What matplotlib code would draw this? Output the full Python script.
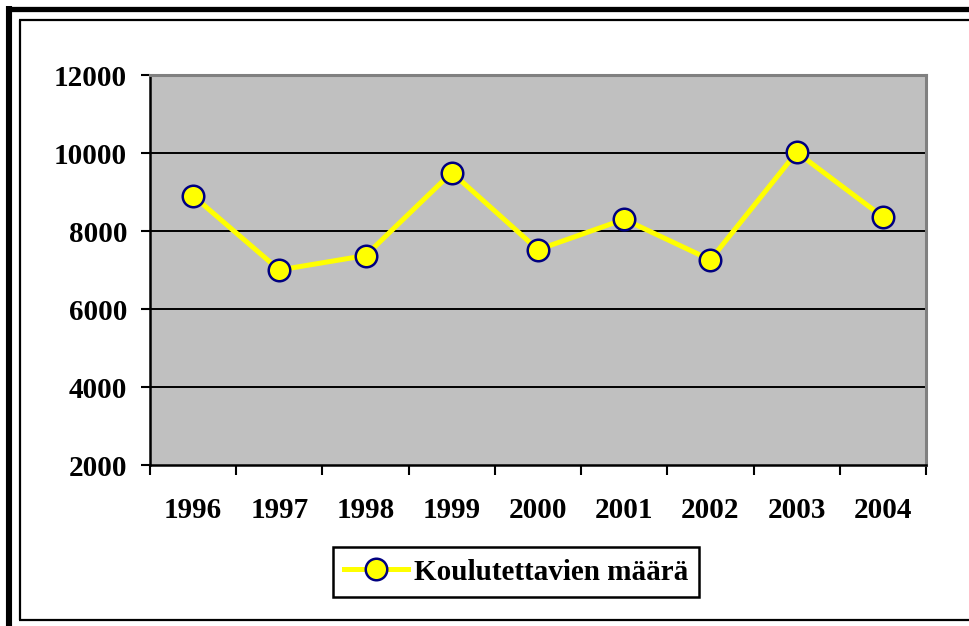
import matplotlib
matplotlib.use("Agg")
import matplotlib.pyplot as plt
from matplotlib.lines import Line2D
from matplotlib.ticker import FixedLocator

years = ["1996", "1997", "1998", "1999", "2000", "2001", "2002", "2003", "2004"]
values = [8900, 7000, 7370, 9500, 7520, 8300, 7260, 10020, 8360]
yticks = [2000, 4000, 6000, 8000, 10000, 12000]
series_name = "Koulutettavien määrä"

plt.rcParams['font.family'] = ['Liberation Serif', 'DejaVu Serif']
plt.rcParams['font.weight'] = 'bold'

W, H = 970, 626
fig = plt.figure(figsize=(W / 100, H / 100), dpi=100)
fig.patch.set_facecolor('white')

ax = fig.add_axes([150 / W, 1 - 465 / H, (926 - 150) / W, (465 - 75) / H])
ax.set_facecolor('#C0C0C0')

x = list(range(len(years)))
ax.plot(x, values, color='#FFFF00', lw=3.6, marker='o', markersize=15.5,
        markerfacecolor='#FFFF00', markeredgecolor='#000080', markeredgewidth=1.8,
        zorder=5, label=series_name, clip_on=False)

ax.set_xlim(-0.5, len(years) - 0.5)
ax.set_ylim(2000, 12000)
ax.set_yticks(yticks)
ax.set_yticklabels([str(v) for v in yticks], fontsize=21, fontweight='bold')
ax.set_xticks(x)
ax.set_xticklabels(years, fontsize=21, fontweight='bold')
ax.xaxis.set_minor_locator(FixedLocator([i - 0.5 for i in range(len(years) + 1)]))
ax.tick_params(axis='x', which='major', length=0, pad=23)
ax.tick_params(axis='x', which='minor', length=7, width=1.5, color='black')
ax.tick_params(axis='y', which='major', length=6.5, width=1.5, color='black', pad=10)

for v in yticks[1:-1]:
    ax.axhline(v, color='black', lw=1.4, zorder=1)

ax.spines['left'].set_color('black')
ax.spines['bottom'].set_color('black')
ax.spines['left'].set_linewidth(1.8)
ax.spines['bottom'].set_linewidth(1.8)
ax.spines['top'].set_color('#808080')
ax.spines['right'].set_color('#808080')
ax.spines['top'].set_linewidth(2.2)
ax.spines['right'].set_linewidth(2.2)

leg = ax.legend(loc='center', bbox_to_anchor=(516 / W, 1 - 572 / H),
                bbox_transform=fig.transFigure, frameon=True, fancybox=False,
                prop={'family': 'Liberation Serif', 'weight': 'bold', 'size': 21},
                handlelength=2.2, handletextpad=0.2, borderpad=0.38, borderaxespad=0)
leg.get_frame().set_edgecolor('black')
leg.get_frame().set_linewidth(1.8)
leg.get_frame().set_alpha(1.0)

def fline(x0, y0, x1, y1, lw):
    fig.add_artist(Line2D([x0 / W, x1 / W], [1 - y0 / H, 1 - y1 / H],
                          transform=fig.transFigure, color='black', lw=lw,
                          solid_capstyle='butt'))

# outer thick frame (left and top)
fline(9, 5.5, 9, H + 5, 4.4)
fline(6, 8.5, W + 5, 8.5, 3.8)
# inner thin frame (left, top, bottom)
fline(19.5, 19.5, 19.5, 619.5, 1.6)
fline(18.7, 19.5, W + 5, 19.5, 1.6)
fline(18.7, 619.5, W + 5, 619.5, 1.6)

fig.savefig("out.png", dpi=100, facecolor='white')
